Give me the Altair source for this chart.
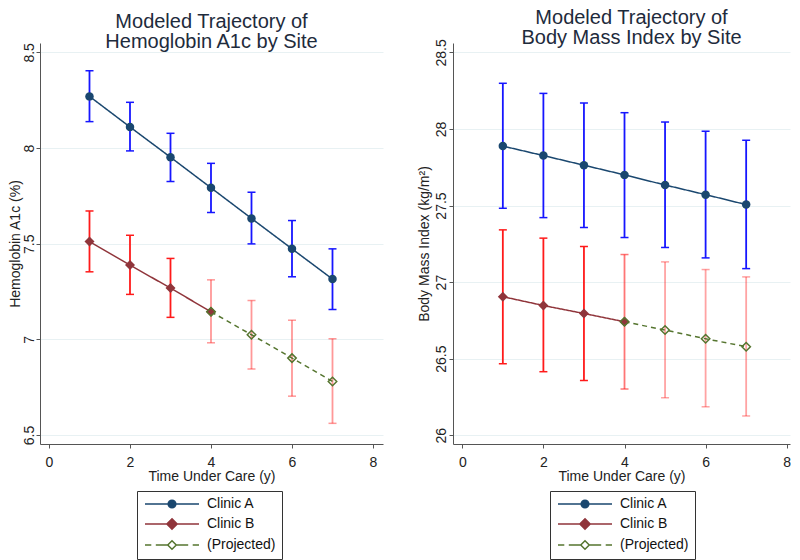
import altair as alt
import pandas as pd

FONT = "Liberation Sans"

years = [1, 2, 3, 4, 5, 6, 7]
series_names = ["Clinic A", "Clinic B", "(Projected)"]
series_colors = ["#1a476f", "#90353b", "#55752f"]
series_fills = ["#1a476f", "#90353b", "transparent"]

# ---- Hemoglobin A1c (%) ----
a1c_A_est = [8.270, 8.110, 7.952, 7.792, 7.632, 7.473, 7.315]
a1c_A_lo = [8.138, 7.985, 7.825, 7.663, 7.499, 7.327, 7.156]
a1c_A_hi = [8.404, 8.239, 8.077, 7.920, 7.769, 7.621, 7.473]
a1c_B_est = [7.511, 7.388, 7.268, 7.144, 7.024, 6.902, 6.780]
a1c_B_lo = [7.353, 7.235, 7.115, 6.982, 6.845, 6.703, 6.561]
a1c_B_hi = [7.671, 7.544, 7.423, 7.311, 7.203, 7.100, 7.003]
a1c_B_bar_alpha = [1, 1, 1, 0.45, 0.45, 0.45, 0.45]
a1c_ticks = [6.5, 7, 7.5, 8, 8.5]

# ---- Body Mass Index (kg/m^2) ----
bmi_A_est = [27.888, 27.826, 27.763, 27.700, 27.634, 27.571, 27.506]
bmi_A_lo = [27.482, 27.421, 27.356, 27.291, 27.226, 27.158, 27.088]
bmi_A_hi = [28.298, 28.232, 28.169, 28.106, 28.045, 27.985, 27.926]
bmi_B_est = [26.905, 26.847, 26.795, 26.741, 26.687, 26.630, 26.578]
bmi_B_lo = [26.467, 26.415, 26.358, 26.302, 26.245, 26.186, 26.126]
bmi_B_hi = [27.341, 27.287, 27.232, 27.180, 27.132, 27.082, 27.034]
bmi_B_bar_alpha = [1, 1, 1, 0.6, 0.4, 0.4, 0.4]
bmi_ticks = [26, 26.5, 27, 27.5, 28, 28.5]

x_ticks = [0, 2, 4, 6, 8]

# legend key glyphs: line + marker (custom symbol paths)
PATH_A = "M-6,0H6M-0.85,0A0.85,0.85 0 1,0 0.85,0A0.85,0.85 0 1,0 -0.85,0Z"
PATH_B = "M-6,0H6M0,-1.15L1.15,0L0,1.15L-1.15,0Z"
PATH_P = ("M-6,0H-4.6M-3.6,0H-0.95M0.95,0H3.6M4.6,0H6"
          "M0,-0.95L0.95,0L0,0.95L-0.95,0Z")
legend_paths = [PATH_A, PATH_B, PATH_P]


def panel(title_lines, ytitle, A_est, A_lo, A_hi, B_est, B_lo, B_hi, B_alpha,
          ydom, yticks, xdom, width, title_dx, right_panel):
    bars = pd.DataFrame({
        "x": years + years,
        "lo": A_lo + B_lo,
        "hi": A_hi + B_hi,
        "col": ["#1616ff"] * 7 + ["#ff1a1a"] * 7,
        "alpha": [1] * 7 + B_alpha,
    })
    lines = pd.DataFrame({
        "x": years + years[:4] + years[3:],
        "y": A_est + B_est[:4] + B_est[3:],
        "series": ["Clinic A"] * 7 + ["Clinic B"] * 4 + ["(Projected)"] * 4,
    })

    xscale = alt.Scale(domain=xdom, nice=False, zero=False)
    yscale = alt.Scale(domain=ydom, nice=False, zero=False)
    xaxis = alt.Axis(title="Time Under Care (y)", values=x_ticks, format="d",
                     grid=False, tickSize=4, labelPadding=7, titlePadding=0,
                     labelFlush=False, labelFontSize=14, titleFontSize=14,
                     labelFont=FONT, titleFont=FONT, labelColor="#222",
                     titleColor="#222", titleFontWeight="normal",
                     domainColor="#555", tickColor="#555")
    yaxis = alt.Axis(title=ytitle, values=yticks, format="~g", grid=True,
                     gridColor="#e8f1f3", gridWidth=1, tickSize=4,
                     labelAngle=270, labelAlign="center", labelBaseline="bottom",
                     labelPadding=1 if right_panel else 0,
                     titlePadding=3 if right_panel else 0,
                     labelFlush=False, labelFontSize=14, titleFontSize=14,
                     labelFont=FONT, titleFont=FONT, labelColor="#222",
                     titleColor="#222", titleFontWeight="normal",
                     domainColor="#555", tickColor="#555")

    def X(f):
        return alt.X(f, type="quantitative", scale=xscale, axis=xaxis)

    def Y(f):
        return alt.Y(f, type="quantitative", scale=yscale, axis=yaxis)

    rules = alt.Chart(bars).mark_rule(strokeWidth=1.8).encode(
        x=X("x"), y=Y("lo"), y2="hi",
        color=alt.Color("col:N", scale=None),
        opacity=alt.Opacity("alpha:Q", scale=None),
    )
    cap_lo = alt.Chart(bars).mark_tick(orient="horizontal", size=8, thickness=1.5).encode(
        x=X("x"), y=Y("lo"),
        color=alt.Color("col:N", scale=None),
        opacity=alt.Opacity("alpha:Q", scale=None),
    )
    cap_hi = alt.Chart(bars).mark_tick(orient="horizontal", size=8, thickness=1.5).encode(
        x=X("x"), y=Y("hi"),
        color=alt.Color("col:N", scale=None),
        opacity=alt.Opacity("alpha:Q", scale=None),
    )

    def series_line(name, color, dash):
        return alt.Chart(lines).transform_filter(f"datum.series === '{name}'").mark_line(
            strokeWidth=1.5, color=color, strokeDash=dash
        ).encode(x=X("x"), y=Y("y"))

    line_A = series_line("Clinic A", series_colors[0], [1, 0])
    line_B = series_line("Clinic B", series_colors[1], [1, 0])
    line_P = series_line("(Projected)", series_colors[2], [5, 4])

    pts_A = alt.Chart(lines).transform_filter("datum.series === 'Clinic A'").mark_point(
        shape="circle", filled=True, size=72, opacity=1, color=series_colors[0]
    ).encode(x=X("x"), y=Y("y"))
    pts_B = alt.Chart(lines).transform_filter("datum.series === 'Clinic B'").mark_point(
        shape="diamond", filled=True, size=100, opacity=1, color=series_colors[1]
    ).encode(x=X("x"), y=Y("y"))
    pts_P = alt.Chart(lines).transform_filter("datum.series === '(Projected)'").mark_point(
        shape="diamond", filled=False, size=72, opacity=1, strokeWidth=1.5,
        color=series_colors[2]
    ).encode(x=X("x"), y=Y("y"))

    legend = alt.Legend(
        title=None, orient="none", legendX=97, legendY=448, direction="vertical",
        padding=6, strokeColor="#333", fillColor="white",
        labelFontSize=14, labelFont=FONT, labelColor="#111",
        symbolSize=81, symbolStrokeWidth=1.5, symbolOpacity=1,
        symbolOffset=22, labelOffset=28, rowPadding=4,
    )
    # legend key layer (marks themselves are invisible; only the keys show)
    keys = alt.Chart(lines).mark_point(opacity=0, strokeWidth=1.5).encode(
        x=X("x"), y=Y("y"),
        fill=alt.Fill("series:N", scale=alt.Scale(domain=series_names, range=series_fills),
                      legend=legend),
        stroke=alt.Stroke("series:N", scale=alt.Scale(domain=series_names, range=series_colors),
                          legend=legend),
        shape=alt.Shape("series:N", scale=alt.Scale(domain=series_names, range=legend_paths),
                        legend=legend),
    )

    return alt.layer(rules, cap_lo, cap_hi, line_A, line_B, line_P,
                     pts_A, pts_B, pts_P, keys).properties(
        width=width, height=401,
        title=alt.TitleParams(text=title_lines, fontSize=20, font=FONT,
                              fontWeight="normal", color="#1e2b3c", lineHeight=19.5,
                              offset=-9, anchor="middle", dx=title_dx),
    )


left = panel(["Modeled Trajectory of", "Hemoglobin A1c by Site"], "Hemoglobin A1c (%)",
             a1c_A_est, a1c_A_lo, a1c_A_hi, a1c_B_est, a1c_B_lo, a1c_B_hi, a1c_B_bar_alpha,
             [6.453, 8.549], a1c_ticks, [-0.222, 8.247], 343, 0, False)
right = panel(["Modeled Trajectory of", "Body Mass Index by Site"], "Body Mass Index (kg/m²)",
              bmi_A_est, bmi_A_lo, bmi_A_hi, bmi_B_est, bmi_B_lo, bmi_B_hi, bmi_B_bar_alpha,
              [25.943, 28.561], bmi_ticks, [-0.229, 8.081], 337, 10, True)

chart = alt.hconcat(left, right, spacing=34).resolve_scale(
    x="independent", y="independent",
    fill="independent", stroke="independent", shape="independent"
).resolve_legend(fill="independent", stroke="independent", shape="independent").properties(
    padding=0
).configure(font=FONT, background="white").configure_view(strokeWidth=0)

chart.save("out.html", embed_options={"renderer": "svg", "actions": False})
